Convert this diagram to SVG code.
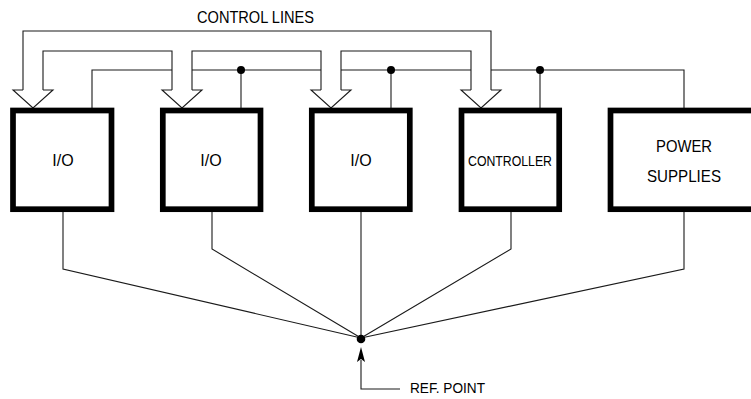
<svg xmlns="http://www.w3.org/2000/svg" width="751" height="399" viewBox="0 0 751 399">
<style>
.box{fill:#fff;stroke:#000;stroke-width:5.7}
.ln{fill:none;stroke:#1a1a1a;stroke-width:1.1}
.dot{fill:#000}
text{font-family:"Liberation Sans",Arial,sans-serif;fill:#000}
.t{font-size:16px}
</style>
<rect width="751" height="399" fill="#fff"/>
<g id="connectors">
  <path class="ln" d="M23,90 V31 H491 V90"/>
  <path class="ln" d="M43,90 V51 H172 V90"/>
  <path class="ln" d="M192,90 V51 H321 V90"/>
  <path class="ln" d="M341,90 V51 H471 V90"/>
  <path class="ln" d="M23,90 H13 L33,108 L53,90 H43"/>
  <path class="ln" d="M172,90 H162 L182,108 L202,90 H192"/>
  <path class="ln" d="M321,90 H311 L331,108 L351,90 H341"/>
  <path class="ln" d="M471,90 H461 L481,108 L501,90 H491"/>
  <path class="ln" d="M92,108 V70 H172"/>
  <path class="ln" d="M192,70 H321"/>
  <path class="ln" d="M341,70 H471"/>
  <path class="ln" d="M491,70 H684 V108"/>
  <path class="ln" d="M241,70 V108"/>
  <path class="ln" d="M391,70 V108"/>
  <path class="ln" d="M540,70 V108"/>
  <circle class="dot" cx="241" cy="70" r="4"/>
  <circle class="dot" cx="391" cy="70" r="4"/>
  <circle class="dot" cx="540" cy="70" r="4"/>
  <path class="ln" d="M63,212 V269 L361,338"/>
  <path class="ln" d="M212,212 V249 L361,338"/>
  <path class="ln" d="M361,212 V338"/>
  <path class="ln" d="M511,212 V249 L361,338"/>
  <path class="ln" d="M684,212 V269 L361,338"/>
  <circle class="dot" cx="361" cy="339" r="4.3"/>
  <path class="ln" d="M361,360 V389 H400"/>
  <path class="dot" d="M361,347 L365,362 L361,359 L357,362 Z"/>
</g>
<text x="197" y="23" font-size="16.5" textLength="117" lengthAdjust="spacingAndGlyphs">CONTROL LINES</text>
<g id="io1">
  <rect class="box" x="13" y="110.5" width="98.5" height="98.7"/>
  <text class="t" x="63" y="166" text-anchor="middle">I/O</text>
</g>
<g id="io2">
  <rect class="box" x="162.8" y="110.5" width="97.7" height="98.7"/>
  <text class="t" x="211" y="166" text-anchor="middle">I/O</text>
</g>
<g id="io3">
  <rect class="box" x="311.8" y="110.5" width="98" height="98.7"/>
  <text class="t" x="361" y="166" text-anchor="middle">I/O</text>
</g>
<g id="controller">
  <rect class="box" x="461.5" y="110.5" width="97.7" height="98.7"/>
  <text x="468" y="166" font-size="15.5" textLength="84" lengthAdjust="spacingAndGlyphs">CONTROLLER</text>
</g>
<g id="power">
  <rect class="box" x="610.5" y="110.5" width="145" height="98.7"/>
  <text x="656" y="152" font-size="16.5" textLength="56" lengthAdjust="spacingAndGlyphs">POWER</text>
  <text x="647" y="182" font-size="16.5" textLength="74" lengthAdjust="spacingAndGlyphs">SUPPLIES</text>
</g>
<text x="410" y="393" font-size="14" textLength="75" lengthAdjust="spacingAndGlyphs">REF. POINT</text>
</svg>
